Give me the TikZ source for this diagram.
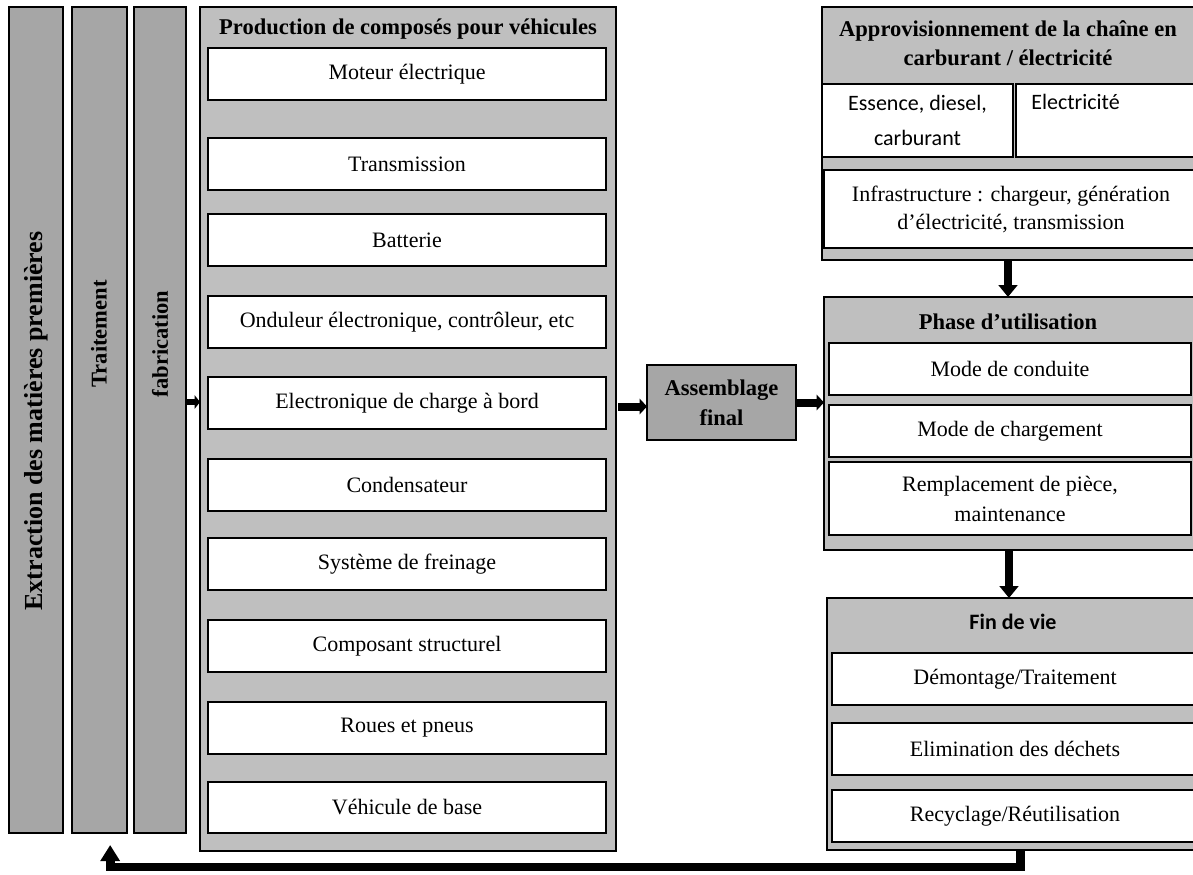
\documentclass[tikz,border=0pt]{standalone}
\usepackage{fontspec}
\setmainfont{Liberation Serif}
\newfontfamily\calibfont{Carlito}
\usetikzlibrary{arrows.meta}

\definecolor{colgray}{HTML}{A6A6A6}
\definecolor{panelgray}{HTML}{BFBFBF}

% box from its corners in pixel units: name, x1, y1, x2, y2, style, text
\newcommand\pxbox[7]{%
  \node[#6, minimum width={(#4-#2)*0.75pt}, minimum height={(#5-#3)*0.75pt}]
    (#1) at ({(#2+#4)/2},{(#3+#5)/2}) {#7};}

\begin{document}
\begin{tikzpicture}[x=0.75pt, y=-0.75pt,
  font=\fontsize{16.5}{22}\selectfont,
  framed/.style={draw=black, line width=0.9pt, inner sep=0pt, outer sep=0pt, align=center},
  colbox/.style={framed, fill=colgray},
  panel/.style={framed, fill=panelgray},
  itembox/.style={framed, fill=white},
  hdr/.style={font=\fontsize{16.9}{22}\selectfont\bfseries, align=center, inner sep=0pt},
  sanstext/.style={font=\fontsize{16.5}{26}\selectfont\calibfont},
  vertarrow/.style={line width=6.5pt, -{Triangle[length=9pt,width=14pt]}},
  horarrow/.style={line width=6pt, -{Triangle[length=5.5pt,width=11.5pt]}},
  smallarrow/.style={line width=4pt, -{Triangle[length=4pt,width=10pt]}}]

\useasboundingbox (0,0) rectangle (1193,875);
\clip (0,0) rectangle (1193,875);

% upstream columns
\pxbox{extr}{9}{7}{63}{833}{colbox}{}
\pxbox{trait}{72}{7}{127}{833}{colbox}{}
\pxbox{fab}{134}{7}{186}{833}{colbox}{}
\node[hdr, rotate=90, font=\fontsize{19.5}{24}\selectfont\bfseries] (extrtxt) at (36,421) {Extraction des matières premières};
\node[hdr, rotate=90] (traittxt) at (99,334) {Traitement};
\node[hdr, rotate=90] (fabtxt) at (160,344) {fabrication};

% component production
\pxbox{prod}{200}{7}{616}{851}{panel}{}
\node[hdr] (prodhead) at (408,29) {Production de composés pour véhicules};
\pxbox{c1}{208}{48}{606}{100}{itembox}{Moteur électrique}
\pxbox{c2}{208}{138}{606}{190}{itembox}{Transmission}
\pxbox{c3}{208}{214}{606}{266}{itembox}{Batterie}
\pxbox{c4}{208}{296}{606}{348}{itembox}{Onduleur électronique, contrôleur, etc}
\pxbox{c5}{208}{377}{606}{429}{itembox}{Electronique de charge à bord}
\pxbox{c6}{208}{459}{606}{511}{itembox}{Condensateur}
\pxbox{c7}{208}{538}{606}{590}{itembox}{Système de freinage}
\pxbox{c8}{208}{620}{606}{672}{itembox}{Composant structurel}
\pxbox{c9}{208}{702}{606}{754}{itembox}{Roues et pneus}
\pxbox{c10}{208}{782}{606}{833}{itembox}{Véhicule de base}

% final assembly
\pxbox{asm}{647}{365}{796}{440}{colbox, font=\fontsize{16.9}{22.5}\selectfont\bfseries}{Assemblage\\final}

% fuel / electricity supply
\pxbox{approv}{822}{7}{1194}{260}{panel}{}
\node[hdr] (approvhead) at (1008,43.5) {Approvisionnement de la chaîne en\\carburant / électricité};
\pxbox{fuel}{822}{84}{1013}{157}{itembox, sanstext}{Essence, diesel,\\carburant}
\pxbox{elec}{1016}{84}{1198}{157}{itembox}{}
\node[sanstext, anchor=west, inner sep=0pt] (electxt) at (1031,102) {Electricité};
\pxbox{infra}{824}{170}{1198}{248}{itembox, font=\fontsize{16.5}{21}\selectfont}{Infrastructure : chargeur, génération\\d’électricité, transmission}

% use phase
\pxbox{phase}{824}{297}{1194}{550}{panel}{}
\node[hdr] (phasehead) at (1008,322) {Phase d’utilisation};
\pxbox{u1}{829}{343}{1191}{395}{itembox}{Mode de conduite}
\pxbox{u2}{829}{405}{1191}{457}{itembox}{Mode de chargement}
\pxbox{u3}{829}{462}{1191}{535}{itembox, font=\fontsize{16.5}{22.5}\selectfont}{Remplacement de pièce,\\maintenance}

% end of life
\pxbox{fin}{827}{598}{1194}{850}{panel}{}
\node[inner sep=0pt, font=\fontsize{16.5}{22}\selectfont\calibfont\bfseries] (finhead) at (1013,622) {Fin de vie};
\pxbox{e1}{832}{653}{1198}{705}{itembox}{Démontage/Traitement}
\pxbox{e2}{832}{723}{1198}{775}{itembox}{Elimination des déchets}
\pxbox{e3}{832}{790}{1198}{842}{itembox}{Recyclage/Réutilisation}

% connectors
\coordinate (fabout) at ([yshift=13.5pt]fab.east);
\draw[smallarrow] (fabout) -- (fabout -| prod.west);
\coordinate (prodout) at ([yshift=-3pt]asm.west -| prod.east);
\draw[horarrow] ([xshift=1.5pt]prodout) -- (prodout -| asm.west);
\draw[horarrow] (asm.east) -- (asm.east -| phase.west);
\draw[vertarrow] (approv.south) -- (approv.south |- phase.north);
\draw[vertarrow] (phase.south) -- (phase.south |- fin.north);

% recycling loop back to processing
\coordinate (retstart) at ([xshift=7.5pt]fin.south);
\coordinate (retlow) at (0,867);
\coordinate (retend) at ([xshift=8pt,yshift=-9pt]trait.south);
\draw[line width=6.5pt, -{Triangle[length=12pt,width=14pt]}]
  (retstart) -- (retstart |- retlow) -| (retend);

\end{tikzpicture}
\end{document}
